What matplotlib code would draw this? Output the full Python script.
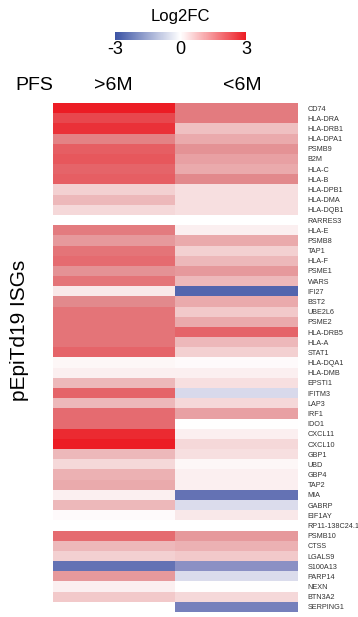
import numpy as np
import matplotlib
matplotlib.use('Agg')
import matplotlib.pyplot as plt
from matplotlib.colors import LinearSegmentedColormap

plt.rcParams['font.family'] = 'sans-serif'
plt.rcParams['font.sans-serif'] = ['Liberation Sans', 'DejaVu Sans']
plt.rcParams['axes.unicode_minus'] = False

# Gene names (rows) and Log2FC per PFS group
genes = ['CD74', 'HLA-DRA', 'HLA-DRB1', 'HLA-DPA1', 'PSMB9', 'B2M', 'HLA-C', 'HLA-B',
         'HLA-DPB1', 'HLA-DMA', 'HLA-DQB1', 'RARRES3', 'HLA-E', 'PSMB8', 'TAP1', 'HLA-F',
         'PSME1', 'WARS', 'IFI27', 'BST2', 'UBE2L6', 'PSME2', 'HLA-DRB5', 'HLA-A', 'STAT1',
         'HLA-DQA1', 'HLA-DMB', 'EPSTI1', 'IFITM3', 'LAP3', 'IRF1', 'IDO1', 'CXCL11',
         'CXCL10', 'GBP1', 'UBD', 'GBP4', 'TAP2', 'MIA', 'GABRP', 'EIF1AY', 'RP11-138C24.1',
         'PSMB10', 'CTSS', 'LGALS9', 'S100A13', 'PARP14', 'NEXN', 'BTN3A2', 'SERPING1']
groups = ['>6M', '<6M']

fc_long = [3.0, 2.4, 2.7, 1.6, 2.1, 2.2, 2.0, 2.1,
           0.6, 0.9, 0.5, np.nan, 1.7, 1.3, 1.8, 1.9,
           1.4, 1.8, 0.3, 1.5, 1.8, 1.8, 1.8, 1.8, 2.0,
           0.1, 0.2, 0.9, 2.0, 0.9, 1.9, 1.9, 2.8,
           3.0, 0.9, 0.5, 1.0, 1.1, 0.2, 0.9, 0.05, np.nan,
           1.9, 0.9, 0.6, -2.3, 1.3, 0.2, 0.7, np.nan]
fc_short = [1.7, 1.7, 0.8, 1.1, 1.4, 1.2, 1.1, 1.5,
            0.4, 0.4, 0.4, np.nan, 0.2, 1.1, 0.6, 0.9,
            1.3, 0.9, -2.6, 1.1, 0.7, 1.1, 2.0, 0.9, 0.6,
            0.05, 0.2, 0.4, -0.55, 0.5, 1.2, 0.0, 0.2,
            0.5, 0.4, 0.1, 0.2, 0.2, -2.3, -0.5, 0.3, np.nan,
            1.3, 1.0, 0.7, -1.65, -0.5, 0.0, 0.5, -2.0]

data = np.ma.masked_invalid(np.column_stack([fc_long, fc_short]))

cmap = LinearSegmentedColormap.from_list(
    'bwr_fc', ['#3b53a4', '#9597c8', '#ffffff', '#e28a8d', '#ec1c24'])

fig = plt.figure(figsize=(3.58, 6.17), dpi=100)

# heatmap
ax = fig.add_axes([0.148, 0.0081, 0.684, 0.825])
mesh = ax.pcolormesh(data, cmap=cmap, vmin=-3, vmax=3)
ax.set_xlim(0, 2)
ax.set_ylim(len(genes), 0)
ax.set_xticks([])
ax.yaxis.tick_right()
ax.set_yticks(np.arange(len(genes)) + 0.5)
ax.set_yticklabels(genes, fontsize=5.2, color='#333333')
ax.tick_params(axis='y', length=0, pad=7)
for s in ax.spines.values():
    s.set_visible(False)

# colorbar (plain white->red / white->blue like the legend)
cbar_cmap = LinearSegmentedColormap.from_list('bar', ['#3b53a4', '#ffffff', '#ec1c24'])
cax = fig.add_axes([0.321, 0.935, 0.366, 0.013])
cb = fig.colorbar(plt.cm.ScalarMappable(cmap=cbar_cmap, norm=mesh.norm),
                  cax=cax, orientation='horizontal', ticks=[-3, 0, 3])
cb.outline.set_visible(False)
cax.tick_params(length=0, labelsize=13, pad=1)
fig.text(0.503, 1 - 17 / 617, 'Log2FC', ha='center', va='center', fontsize=12)

# group header
fig.text(15 / 358, 1 - 85 / 617, 'PFS', ha='left', va='center', fontsize=14)
fig.text(113 / 358, 1 - 85 / 617, groups[0], ha='center', va='center', fontsize=14)
fig.text(242 / 358, 1 - 85 / 617, groups[1], ha='center', va='center', fontsize=14)

fig.text(20 / 358, 1 - 330 / 617, 'pEpiTd19 ISGs', rotation=90, ha='center', va='center', fontsize=15)

fig.savefig('out.png', dpi=100)
